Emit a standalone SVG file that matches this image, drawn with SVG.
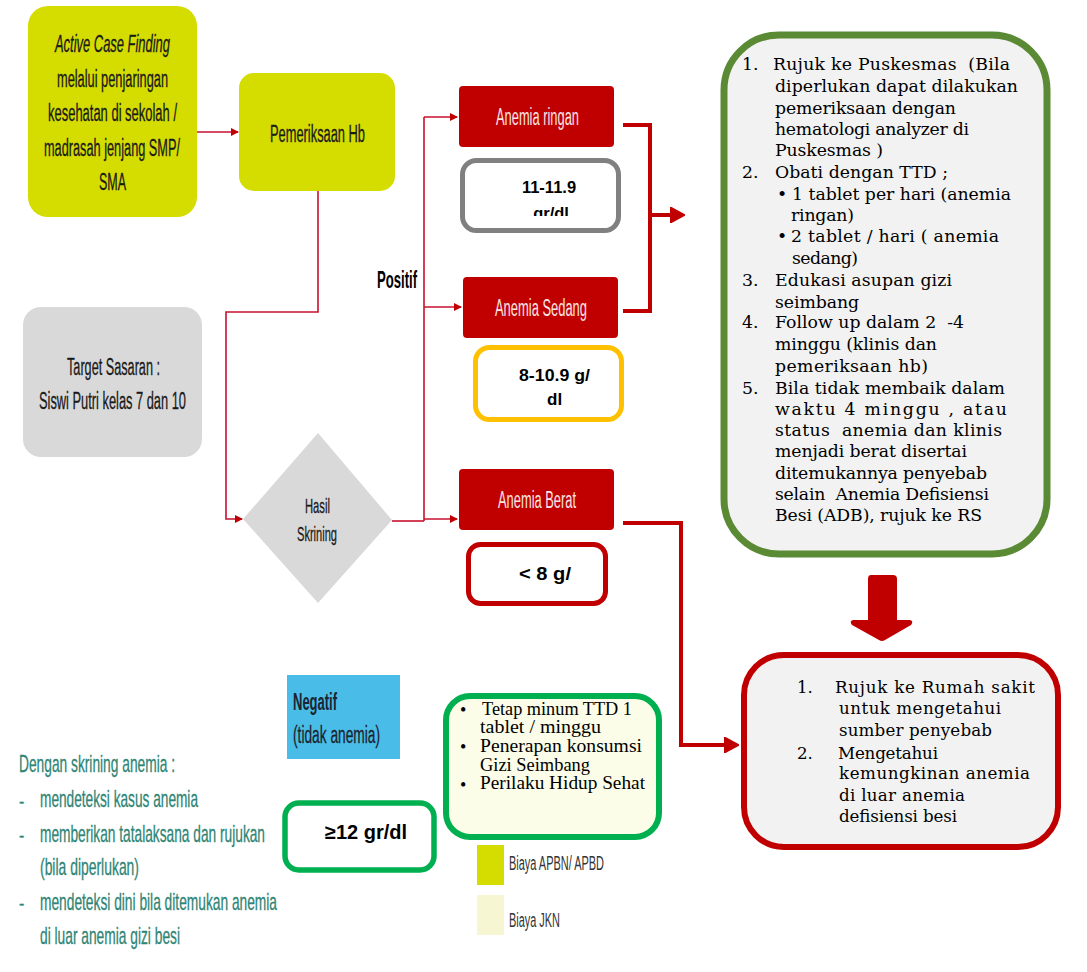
<svg xmlns="http://www.w3.org/2000/svg" width="1087" height="972" viewBox="0 0 1087 972">
<defs>
<style>
.n{font-family:"Liberation Sans",Arial,sans-serif;}
.yel{fill:#d4dc00;}
.gry{fill:#d9d9d9;}
.red{fill:#c00000;}
.wt{fill:#f7e4e4;font-size:23px;}
.dk{fill:#1a1a1a;font-size:23px;stroke:#1a1a1a;stroke-width:0.3;}
.bd{font-family:"Liberation Sans",Arial,sans-serif;font-weight:bold;fill:#000;}
.sf{font-family:"DejaVu Serif",serif;fill:#000;font-size:17.3px;}
.tm{font-family:"Liberation Serif","Times New Roman",serif;fill:#000;font-size:18px;}
.tl{fill:#2f8575;font-size:24px;stroke:#2f8575;stroke-width:0.3;}
.thin{fill:none;stroke:#c8102e;stroke-width:1.6;}
.thick{fill:none;stroke:#c00000;stroke-width:4;}
</style>
<marker id="ah" viewBox="0 0 8 8" refX="7" refY="4" markerWidth="8" markerHeight="8" markerUnits="userSpaceOnUse" orient="auto"><path d="M0,0 L8,4 L0,8 z" fill="#c00000"/></marker>
<marker id="ahb" viewBox="0 0 15 16" refX="11" refY="8" markerWidth="15" markerHeight="16" markerUnits="userSpaceOnUse" orient="auto"><path d="M0,0 L15,8 L0,16 z" fill="#c00000" stroke="#c00000" stroke-width="1.5" stroke-linejoin="round"/></marker>
<clipPath id="clipGr"><rect x="462" y="160" width="156" height="56"/></clipPath>
</defs>

<g id="connectors">
<path class="thin" d="M197,132 H238" marker-end="url(#ah)"/>
<path class="thin" d="M318,191 V312 H226 V519 H242" marker-end="url(#ah)"/>
<path class="thin" d="M392,521 H424"/>
<path class="thin" d="M424,117 V521"/>
<path class="thin" d="M424,117 H457" marker-end="url(#ah)"/>
<path class="thin" d="M424,307 H461" marker-end="url(#ah)"/>
<path class="thin" d="M424,519 H457" marker-end="url(#ah)"/>
<path class="thick" d="M623,125 H650 V311 H623"/>
<path class="thick" d="M650,215 H681" marker-end="url(#ahb)"/>
<path class="thick" d="M623,523 H681 V745 H735" marker-end="url(#ahb)"/>
<path d="M871,575 Q868,575 868,579 V620 H853 Q849,621 852,625 L879,640 Q882,642 885,640 L911,625 Q914,621 910,620 H897 V579 Q897,575 893,575 Z" fill="#c00000"/>
</g>

<g id="active-case-finding">
<rect x="28" y="6" width="169" height="211" rx="20" class="yel"/>
<text class="n dk" x="55" y="52" font-style="italic" textLength="115" lengthAdjust="spacingAndGlyphs">Active Case Finding</text>
<text class="n dk" x="57" y="87" textLength="111" lengthAdjust="spacingAndGlyphs">melalui penjaringan</text>
<text class="n dk" x="48" y="121" textLength="129" lengthAdjust="spacingAndGlyphs">kesehatan di sekolah /</text>
<text class="n dk" x="44" y="156" textLength="136" lengthAdjust="spacingAndGlyphs">madrasah jenjang SMP/</text>
<text class="n dk" x="99" y="190" textLength="27" lengthAdjust="spacingAndGlyphs">SMA</text>
</g>

<g id="pemeriksaan-hb">
<rect x="239" y="73" width="156" height="118" rx="15" class="yel"/>
<text class="n dk" x="270" y="142" textLength="95" lengthAdjust="spacingAndGlyphs">Pemeriksaan Hb</text>
</g>

<g id="target-sasaran">
<rect x="23" y="307" width="179" height="150" rx="18" class="gry"/>
<text class="n dk" x="67" y="375" textLength="93" lengthAdjust="spacingAndGlyphs">Target Sasaran :</text>
<text class="n dk" x="39" y="409" textLength="147" lengthAdjust="spacingAndGlyphs">Siswi Putri kelas 7 dan 10</text>
</g>

<g id="hasil-skrining">
<polygon points="318,433 392,520 318,603 243,519" class="gry"/>
<text class="n dk" x="305" y="513" textLength="25" lengthAdjust="spacingAndGlyphs" style="font-size:21px">Hasil</text>
<text class="n dk" x="297" y="541" textLength="40" lengthAdjust="spacingAndGlyphs" style="font-size:21px">Skrining</text>
</g>

<g id="positif-label">
<text class="bd" x="377" y="288" style="font-size:23px" textLength="40" lengthAdjust="spacingAndGlyphs">Positif</text>
</g>

<g id="anemia-ringan">
<rect x="459" y="86" width="155" height="61" rx="4" class="red"/>
<text class="n wt" x="496" y="125" textLength="83" lengthAdjust="spacingAndGlyphs">Anemia ringan</text>
</g>
<g id="hb-ringan">
<rect x="462.5" y="160.5" width="156" height="70" rx="14" fill="#fff" stroke="#808080" stroke-width="5"/>
<text class="bd" x="549" y="193" text-anchor="middle" style="font-size:16.5px">11-11.9</text>
<text class="bd" x="551" y="219" text-anchor="middle" style="font-size:16.5px" clip-path="url(#clipGr)">gr/dl</text>
</g>

<g id="anemia-sedang">
<rect x="463" y="277" width="155" height="61" rx="4" class="red"/>
<text class="n wt" x="495" y="316" textLength="92" lengthAdjust="spacingAndGlyphs">Anemia Sedang</text>
</g>
<g id="hb-sedang">
<rect x="475.5" y="347.5" width="146" height="72" rx="14" fill="#fff" stroke="#ffc000" stroke-width="5"/>
<text class="bd" x="519" y="381" style="font-size:17px" textLength="71" lengthAdjust="spacingAndGlyphs">8-10.9 g/</text>
<text class="bd" x="547" y="405" style="font-size:17px">dl</text>
</g>

<g id="anemia-berat">
<rect x="459" y="469" width="155" height="61" rx="4" class="red"/>
<text class="n wt" x="498" y="508" textLength="78" lengthAdjust="spacingAndGlyphs">Anemia Berat</text>
</g>
<g id="hb-berat">
<rect x="468.5" y="544.5" width="137" height="59" rx="12" fill="#fff" stroke="#c00000" stroke-width="5"/>
<text class="bd" x="519" y="580" style="font-size:18px" textLength="52" lengthAdjust="spacingAndGlyphs">&lt; 8 g/</text>
</g>

<g id="tatalaksana-puskesmas">
<rect x="724" y="35" width="323" height="519" rx="55" fill="#f2f2f2" stroke="#5b8a35" stroke-width="7"/>
<text class="sf" x="742" y="70">1.</text>
<text class="sf" x="773" y="70" textLength="237" lengthAdjust="spacing" xml:space="preserve">Rujuk ke Puskesmas  (Bila</text>
<text class="sf" x="775" y="92" textLength="243" lengthAdjust="spacing">diperlukan dapat dilakukan</text>
<text class="sf" x="775" y="114" textLength="181" lengthAdjust="spacing">pemeriksaan dengan</text>
<text class="sf" x="775" y="135" textLength="194" lengthAdjust="spacing">hematologi analyzer di</text>
<text class="sf" x="775" y="156" textLength="108" lengthAdjust="spacing">Puskesmas )</text>
<text class="sf" x="742" y="178">2.</text>
<text class="sf" x="775" y="178" textLength="173" lengthAdjust="spacing">Obati dengan TTD ;</text>
<text class="sf" x="777" y="200">•</text>
<text class="sf" x="792" y="200" textLength="219" lengthAdjust="spacing">1 tablet per hari (anemia</text>
<text class="sf" x="791" y="221" textLength="63" lengthAdjust="spacing">ringan)</text>
<text class="sf" x="777" y="242">•</text>
<text class="sf" x="791" y="242" textLength="208" lengthAdjust="spacing">2 tablet / hari ( anemia</text>
<text class="sf" x="792" y="264" textLength="66" lengthAdjust="spacing">sedang)</text>
<text class="sf" x="742" y="286">3.</text>
<text class="sf" x="775" y="286" textLength="177" lengthAdjust="spacing">Edukasi asupan gizi</text>
<text class="sf" x="775" y="308" textLength="84" lengthAdjust="spacing">seimbang</text>
<text class="sf" x="742" y="328">4.</text>
<text class="sf" x="775" y="328" textLength="189" lengthAdjust="spacing" xml:space="preserve">Follow up dalam 2  -4</text>
<text class="sf" x="775" y="350" textLength="162" lengthAdjust="spacing">minggu (klinis dan</text>
<text class="sf" x="775" y="372" textLength="153" lengthAdjust="spacing">pemeriksaan hb)</text>
<text class="sf" x="742" y="394">5.</text>
<text class="sf" x="775" y="394" textLength="230" lengthAdjust="spacing">Bila tidak membaik dalam</text>
<text class="sf" x="775" y="415" textLength="232" lengthAdjust="spacing">waktu 4 minggu , atau</text>
<text class="sf" x="775" y="436" textLength="227" lengthAdjust="spacing" xml:space="preserve">status  anemia dan klinis</text>
<text class="sf" x="775" y="457" textLength="192" lengthAdjust="spacing">menjadi berat disertai</text>
<text class="sf" x="775" y="479" textLength="212" lengthAdjust="spacing">ditemukannya penyebab</text>
<text class="sf" x="775" y="500" textLength="214" lengthAdjust="spacing" xml:space="preserve">selain  Anemia Defisiensi</text>
<text class="sf" x="775" y="521" textLength="207" lengthAdjust="spacing">Besi (ADB), rujuk ke RS</text>
</g>

<g id="rujuk-rs">
<rect x="744" y="655" width="314" height="192" rx="40" fill="#f2f2f2" stroke="#c00000" stroke-width="6"/>
<text class="sf" x="797" y="693" style="font-size:16.7px">1.</text>
<text class="sf" x="835" y="693" style="font-size:16.7px" textLength="200" lengthAdjust="spacing">Rujuk ke Rumah sakit</text>
<text class="sf" x="839" y="714" style="font-size:16.7px" textLength="162" lengthAdjust="spacing">untuk mengetahui</text>
<text class="sf" x="839" y="736" style="font-size:16.7px" textLength="153" lengthAdjust="spacing">sumber penyebab</text>
<text class="sf" x="797" y="759" style="font-size:16.7px">2.</text>
<text class="sf" x="838" y="759" style="font-size:16.7px" textLength="100" lengthAdjust="spacing">Mengetahui</text>
<text class="sf" x="839" y="779" style="font-size:16.7px" textLength="191" lengthAdjust="spacing">kemungkinan anemia</text>
<text class="sf" x="839" y="801" style="font-size:16.7px" textLength="126" lengthAdjust="spacing">di luar anemia</text>
<text class="sf" x="839" y="822" style="font-size:16.7px" textLength="118" lengthAdjust="spacing">defisiensi besi</text>
</g>

<g id="negatif">
<rect x="287" y="675" width="113" height="84" fill="#49bde8"/>
<text class="n" x="293" y="710" fill="#1c2430" style="font-size:23px;font-weight:bold" textLength="44" lengthAdjust="spacingAndGlyphs">Negatif</text>
<text class="n" x="293" y="743" fill="#1c2430" stroke="#1c2430" stroke-width="0.3" style="font-size:23px" textLength="87" lengthAdjust="spacingAndGlyphs">(tidak anemia)</text>
</g>

<g id="hb-normal">
<rect x="285" y="803" width="149" height="67" rx="14" fill="#fff" stroke="#00b050" stroke-width="5.5"/>
<text class="bd" x="325" y="839" style="font-size:20px">≥12 gr/dl</text>
</g>

<g id="tatalaksana-negatif">
<rect x="446" y="696" width="213" height="141" rx="24" fill="#fbfde8" stroke="#00b050" stroke-width="6"/>
<text class="tm" x="460" y="716">•</text>
<text class="tm" x="482" y="715" textLength="150" lengthAdjust="spacingAndGlyphs">Tetap minum TTD 1</text>
<text class="tm" x="480" y="733" textLength="121" lengthAdjust="spacingAndGlyphs">tablet / minggu</text>
<text class="tm" x="460" y="753">•</text>
<text class="tm" x="480" y="752" textLength="162" lengthAdjust="spacingAndGlyphs">Penerapan konsumsi</text>
<text class="tm" x="480" y="771" textLength="110" lengthAdjust="spacingAndGlyphs">Gizi Seimbang</text>
<text class="tm" x="460" y="791">•</text>
<text class="tm" x="480" y="789" textLength="165" lengthAdjust="spacingAndGlyphs">Perilaku Hidup Sehat</text>
</g>

<g id="legend">
<rect x="477" y="845" width="27" height="40" fill="#d4dc00"/>
<text class="n" x="509" y="870" fill="#333" style="font-size:20px" textLength="95" lengthAdjust="spacingAndGlyphs">Biaya APBN/ APBD</text>
<rect x="477" y="895" width="27" height="40" fill="#f6f7d2"/>
<text class="n" x="509" y="927" fill="#333" style="font-size:20px" textLength="51" lengthAdjust="spacingAndGlyphs">Biaya JKN</text>
</g>

<g id="keterangan-skrining">
<text class="n tl" x="19" y="772" textLength="156" lengthAdjust="spacingAndGlyphs">Dengan skrining anemia :</text>
<text class="n tl" x="19" y="807" style="font-size:16px">-</text>
<text class="n tl" x="40" y="807" textLength="158" lengthAdjust="spacingAndGlyphs">mendeteksi kasus anemia</text>
<text class="n tl" x="19" y="841" style="font-size:16px">-</text>
<text class="n tl" x="40" y="842" textLength="225" lengthAdjust="spacingAndGlyphs">memberikan tatalaksana dan rujukan</text>
<text class="n tl" x="40" y="875" textLength="99" lengthAdjust="spacingAndGlyphs">(bila diperlukan)</text>
<text class="n tl" x="19" y="909" style="font-size:16px">-</text>
<text class="n tl" x="40" y="910" textLength="237" lengthAdjust="spacingAndGlyphs">mendeteksi dini bila ditemukan anemia</text>
<text class="n tl" x="40" y="944" textLength="140" lengthAdjust="spacingAndGlyphs">di luar anemia gizi besi</text>
</g>
</svg>
